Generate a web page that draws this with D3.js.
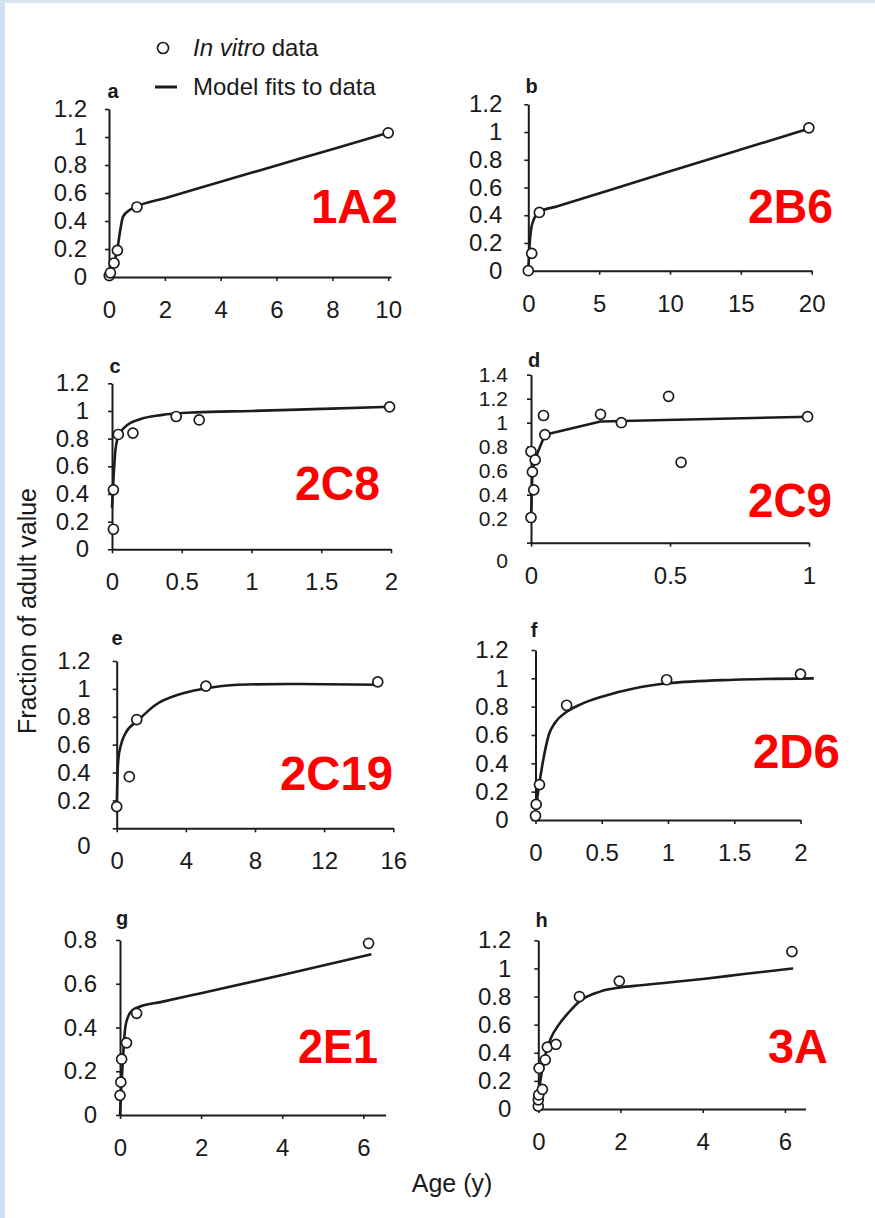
<!DOCTYPE html>
<html>
<head>
<meta charset="utf-8">
<script src="https://cdn.jsdelivr.net/npm/d3@7"></script>
<style>
  html, body { margin: 0; padding: 0; background: #fff; }
  svg { display: block; }
  text { font-family: "Liberation Sans", Arial, Helvetica, sans-serif; fill: #1a1a1a; }
</style>
</head>
<body>
<svg id="chart" width="875" height="1218"></svg>
<script>
// ---- Observed in-vitro data (age in years, fraction of adult value) ----
const a_obsAge = [0.01, 0.05, 0.18, 0.3, 1.0, 10];
const a_obsVal = [0.01, 0.03, 0.10, 0.19, 0.50, 1.03];
const a_fitAge = [0, 0.15, 0.3, 0.4, 0.5, 0.75, 1, 2, 4, 6, 8, 10];
const a_fitVal = [0, 0.08, 0.2, 0.33, 0.43, 0.48, 0.505, 0.563, 0.68, 0.797, 0.913, 1.03];

const b_obsAge = [0, 0.24, 0.78, 19.8];
const b_obsVal = [0, 0.125, 0.42, 1.03];
const b_fitAge = [0, 0.1, 0.2, 0.35, 0.55, 0.8, 2, 6, 10, 15, 20];
const b_fitVal = [0, 0.2, 0.3, 0.36, 0.4, 0.425, 0.463, 0.59, 0.717, 0.874, 1.03];

const c_obsAge = [0.01, 0.01, 0.045, 0.15, 0.46, 0.625, 1.99];
const c_obsVal = [0.145, 0.43, 0.83, 0.84, 0.96, 0.935, 1.03];
const c_fitAge = [0, 0.01, 0.025, 0.05, 0.1, 0.2, 0.35, 0.6, 1, 1.5, 2];
const c_fitVal = [0.3, 0.5, 0.72, 0.83, 0.89, 0.94, 0.97, 0.99, 1.0, 1.015, 1.03];

const d_obsAge = [0, 0.01, 0.005, 0, 0.015, 0.05, 0.045, 0.25, 0.325, 0.495, 0.54, 0.995];
const d_obsVal = [0.21, 0.44, 0.59, 0.76, 0.69, 0.90, 1.06, 1.07, 1.0, 1.22, 0.67, 1.05];
const d_fitAge = [0, 0.005, 0.015, 0.05, 0.25, 1];
const d_fitVal = [0.2, 0.6, 0.7, 0.9, 1.01, 1.05];

const e_obsAge = [0, 0.73, 1.16, 5.16, 15.1];
const e_obsVal = [0.155, 0.37, 0.78, 1.02, 1.05];
const e_fitAge = [0, 0.05, 0.1, 0.25, 0.5, 1.2, 2.3, 3.6, 5, 7, 10, 15.1];
const e_fitVal = [0.15, 0.4, 0.5, 0.6, 0.68, 0.77, 0.89, 0.96, 1.0, 1.03, 1.035, 1.03];

const f_obsAge = [0, 0.005, 0.03, 0.235, 0.99, 2.0];
const f_obsVal = [0.03, 0.11, 0.25, 0.81, 0.99, 1.03];
const f_fitAge = [0, 0.02, 0.05, 0.1, 0.15, 0.23, 0.35, 0.5, 0.75, 1, 1.5, 2.1];
const f_fitVal = [0.05, 0.2, 0.38, 0.6, 0.69, 0.76, 0.82, 0.87, 0.93, 0.965, 0.99, 1.0];

const g_obsAge = [0, 0.02, 0.04, 0.16, 0.41, 6.13];
const g_obsVal = [0.09, 0.15, 0.255, 0.33, 0.465, 0.785];
const g_fitAge = [0, 0.03, 0.08, 0.13, 0.2, 0.3, 0.5, 1, 2, 4, 6.2];
const g_fitVal = [0, 0.12, 0.28, 0.4, 0.45, 0.478, 0.496, 0.516, 0.557, 0.64, 0.735];

const h_obsAge = [0, 0, 0.01, 0.1, 0.02, 0.17, 0.22, 0.43, 1.0, 1.97, 6.17];
const h_obsVal = [0.02, 0.065, 0.1, 0.14, 0.29, 0.35, 0.44, 0.46, 0.80, 0.91, 1.12];
const h_fitAge = [0, 0.05, 0.15, 0.3, 0.5, 0.75, 1, 1.5, 2, 2.5, 3, 4, 5, 6.2];
const h_fitVal = [0.08, 0.2, 0.36, 0.5, 0.6, 0.69, 0.765, 0.835, 0.865, 0.88, 0.895, 0.925, 0.96, 1.0];

// ---- Tick labels ----
const yTicks12 = [0, 0.2, 0.4, 0.6, 0.8, 1, 1.2];
const yTicks14 = [0, 0.2, 0.4, 0.6, 0.8, 1, 1.2, 1.4];
const yTicks08 = [0, 0.2, 0.4, 0.6, 0.8];
const xTicksA = [0, 2, 4, 6, 8, 10];
const xTicksB = [0, 5, 10, 15, 20];
const xTicksC = [0, 0.5, 1, 1.5, 2];
const xTicksD = [0, 0.5, 1];
const xTicksE = [0, 4, 8, 12, 16];
const xTicksF = [0, 0.5, 1, 1.5, 2];
const xTicksG = [0, 2, 4, 6];
const xTicksH = [0, 2, 4, 6];

// ---- Panel names ----
const panelLetters = ["a", "b", "c", "d", "e", "f", "g", "h"];
const enzymeNames = ["1A2", "2B6", "2C8", "2C9", "2C19", "2D6", "2E1", "3A"];

// ---- Panel assembly: data + layout ----
const panels = [
  { obsX: a_obsAge, obsY: a_obsVal, fitX: a_fitAge, fitY: a_fitVal, xt: xTicksA, yt: yTicks12,
    xDom: [0, 10.1], xRng: [109, 391], yDom: [0, 1.2], yRng: [277, 109], yGap: 18, yFont: 24,
    letter: [113, 98], tag: [311, 223, 87], zeroShift: 0, curve: d3.curveMonotoneX },
  { obsX: b_obsAge, obsY: b_obsVal, fitX: b_fitAge, fitY: b_fitVal, xt: xTicksB, yt: yTicks12,
    xDom: [0, 20], xRng: [528.3, 811.7], yDom: [0, 1.2], yRng: [270.7, 104.3], yGap: 22, yFont: 24,
    letter: [531.7, 93], tag: [748, 223, 85], zeroShift: 0, curve: d3.curveMonotoneX },
  { obsX: c_obsAge, obsY: c_obsVal, fitX: c_fitAge, fitY: c_fitVal, xt: xTicksC, yt: yTicks12,
    xDom: [0, 2], xRng: [112, 391], yDom: [0, 1.2], yRng: [549.3, 383.3], yGap: 19, yFont: 24,
    letter: [115, 373], tag: [295, 500, 85], zeroShift: 0, curve: d3.curveMonotoneX },
  { obsX: d_obsAge, obsY: d_obsVal, fitX: d_fitAge, fitY: d_fitVal, xt: xTicksD, yt: yTicks14,
    xDom: [0, 1], xRng: [531, 809], yDom: [0, 1.4], yRng: [542.7, 374.7], yGap: 19, yFont: 21,
    letter: [534, 367], tag: [748, 517, 84], zeroShift: 18, curve: d3.curveLinear },
  { obsX: e_obsAge, obsY: e_obsVal, fitX: e_fitAge, fitY: e_fitVal, xt: xTicksE, yt: yTicks12,
    xDom: [0, 16], xRng: [116.7, 393.3], yDom: [0, 1.2], yRng: [828.3, 661], yGap: 22, yFont: 24,
    letter: [117, 645], tag: [280, 790, 113], zeroShift: 18, curve: d3.curveMonotoneX },
  { obsX: f_obsAge, obsY: f_obsVal, fitX: f_fitAge, fitY: f_fitVal, xt: xTicksF, yt: yTicks12,
    xDom: [0, 2], xRng: [535.5, 800.5], yDom: [0, 1.2], yRng: [820, 650], yGap: 23, yFont: 24,
    letter: [534, 637], tag: [753, 768, 87], zeroShift: 0, curve: d3.curveMonotoneX },
  { obsX: g_obsAge, obsY: g_obsVal, fitX: g_fitAge, fitY: g_fitVal, xt: xTicksG, yt: yTicks08,
    xDom: [0, 6.55], xRng: [120, 385.6], yDom: [0, 0.8], yRng: [1115, 940], yGap: 19, yFont: 24,
    letter: [122, 925], tag: [298, 1063, 80], zeroShift: 0, curve: d3.curveMonotoneX },
  { obsX: h_obsAge, obsY: h_obsVal, fitX: h_fitAge, fitY: h_fitVal, xt: xTicksH, yt: yTicks12,
    xDom: [0, 6.5], xRng: [538.3, 805.5], yDom: [0, 1.2], yRng: [1109, 940.3], yGap: 23, yFont: 24,
    letter: [541.7, 927], tag: [768, 1063, 60], zeroShift: 0, curve: d3.curveMonotoneX }
];

const svg = d3.select("#chart");
const ink = "#1c1c1c";
const fmt = d3.format("~g");

// page background with the pale blue edge
svg.append("rect").attr("width", 875).attr("height", 1218).attr("fill", "#ffffff");
svg.append("rect").attr("width", 5).attr("height", 1218).attr("fill", "#cfe0f2");
svg.append("rect").attr("width", 875).attr("height", 3).attr("fill", "#d6e5f4");

panels.forEach((p, i) => {
  const x = d3.scaleLinear().domain(p.xDom).range(p.xRng);
  const y = d3.scaleLinear().domain(p.yDom).range(p.yRng);
  const g = svg.append("g");

  // x axis
  const xa = g.append("g")
    .attr("transform", `translate(0,${y(0)})`)
    .call(d3.axisBottom(x).tickValues(p.xt).tickFormat(fmt).tickSizeInner(4).tickSizeOuter(0).tickPadding(20));
  // y axis
  const ya = g.append("g")
    .attr("transform", `translate(${x(0)},0)`)
    .call(d3.axisLeft(y).tickValues(p.yt).tickFormat(fmt).tickSizeInner(4).tickSizeOuter(0).tickPadding(p.yGap));

  [xa, ya].forEach(ax => {
    ax.select(".domain").attr("stroke", ink).attr("stroke-width", 2);
    ax.selectAll(".tick line").attr("stroke", ink).attr("stroke-width", 1.6);
    ax.selectAll(".tick text").attr("font-size", 24).attr("fill", ink)
      .attr("font-family", "'Liberation Sans', Arial, sans-serif");
  });
  ya.selectAll(".tick text").attr("font-size", p.yFont);
  // the zero label sits lower on some panels
  ya.selectAll(".tick").filter(d => d === 0).select("text")
    .attr("y", p.zeroShift);

  // model fit
  const line = d3.line().x(d => x(d[0])).y(d => y(d[1])).curve(p.curve);
  g.append("path")
    .datum(d3.zip(p.fitX, p.fitY))
    .attr("d", line)
    .attr("fill", "none")
    .attr("stroke", ink)
    .attr("stroke-width", 2.6)
    .attr("stroke-linejoin", "round");

  // in vitro observations
  g.selectAll("circle.obs")
    .data(d3.zip(p.obsX, p.obsY))
    .join("circle")
    .attr("class", "obs")
    .attr("cx", d => x(d[0]))
    .attr("cy", d => y(d[1]))
    .attr("r", 5)
    .attr("fill", "#fff")
    .attr("stroke", ink)
    .attr("stroke-width", 1.7);

  // panel letter
  g.append("text")
    .attr("x", p.letter[0]).attr("y", p.letter[1])
    .attr("text-anchor", "middle")
    .attr("font-size", 20).attr("font-weight", "bold")
    .text(panelLetters[i]);

  // enzyme tag
  g.append("text")
    .attr("x", p.tag[0]).attr("y", p.tag[1])
    .attr("textLength", p.tag[2])
    .attr("lengthAdjust", "spacingAndGlyphs")
    .attr("font-family", "'DejaVu Sans', sans-serif")
    .attr("font-weight", "bold")
    .attr("font-size", 48)
    .style("fill", "#ff0000")
    .text(enzymeNames[i]);
});

// legend
const lg = svg.append("g");
lg.append("circle").attr("cx", 163).attr("cy", 48).attr("r", 5.5)
  .attr("fill", "#fff").attr("stroke", ink).attr("stroke-width", 1.7);
const t1 = lg.append("text").attr("x", 193).attr("y", 56).attr("font-size", 24);
t1.append("tspan").attr("font-style", "italic").text("In vitro");
t1.append("tspan").text(" data");
lg.append("line").attr("x1", 155).attr("x2", 177).attr("y1", 87).attr("y2", 87)
  .attr("stroke", ink).attr("stroke-width", 3);
lg.append("text").attr("x", 193).attr("y", 95).attr("font-size", 24)
  .text("Model fits to data");

// axis titles
svg.append("text")
  .attr("transform", "translate(36,611) rotate(-90)")
  .attr("text-anchor", "middle")
  .attr("font-size", 25)
  .text("Fraction of adult value");
svg.append("text")
  .attr("x", 452).attr("y", 1192)
  .attr("text-anchor", "middle")
  .attr("font-size", 25)
  .text("Age (y)");
</script>
</body>
</html>
